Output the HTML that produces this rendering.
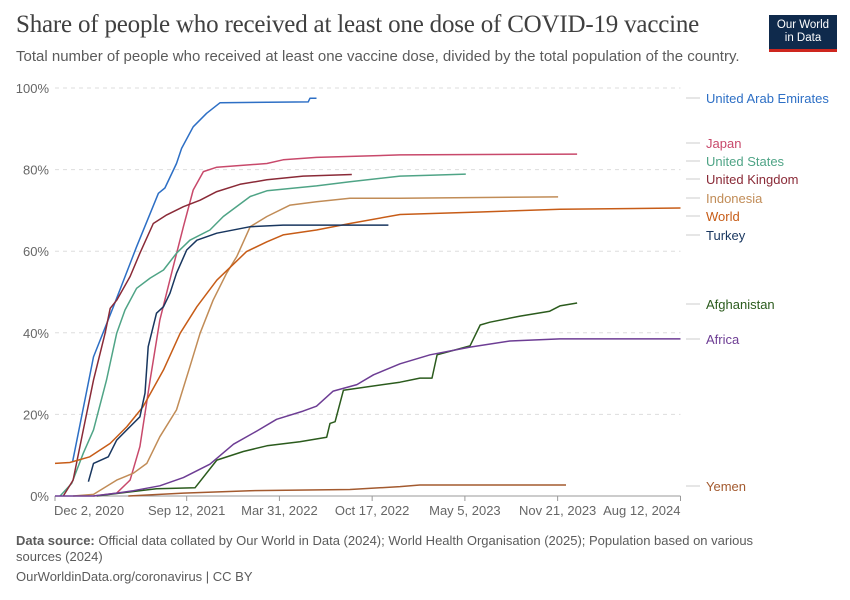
<!DOCTYPE html>
<html><head><meta charset="utf-8"><style>
body{margin:0;background:#fff;}
#wrap{position:relative;width:850px;height:600px;overflow:hidden;font-family:"Liberation Sans",sans-serif;}
.t{position:absolute;white-space:nowrap;}
</style></head><body>
<div id="wrap">
<div class="t" style="left:16px;top:11px;font-family:'Liberation Serif',serif;font-size:25px;color:#404040;letter-spacing:-0.2px;">Share of people who received at least one dose of COVID-19 vaccine</div>
<div class="t" style="left:16px;top:48px;font-size:15px;color:#5b5b5b;">Total number of people who received at least one vaccine dose, divided by the total population of the country.</div>
<div style="position:absolute;left:769px;top:15px;width:68px;height:37px;background:#0f2a4c;border-bottom:3px solid #ce261e;color:#fff;font-size:11.5px;line-height:13px;text-align:center;padding-top:4px;box-sizing:border-box;">Our World<br>in Data</div>
<svg id="svg" width="850" height="600" style="position:absolute;left:0;top:0"></svg>
<div class="t" style="left:16px;top:533px;font-size:13px;color:#5b5b5b;line-height:16px;white-space:normal;width:780px;"><b>Data source:</b> Official data collated by Our World in Data (2024); World Health Organisation (2025); Population based on various sources (2024)</div>
<div class="t" style="left:16px;top:569px;font-size:13px;color:#5b5b5b;">OurWorldinData.org/coronavirus | CC BY</div>
</div>
<script>
const tickLabels=["Dec 2, 2020","Sep 12, 2021","Mar 31, 2022","Oct 17, 2022","May 5, 2023","Nov 21, 2023","Aug 12, 2024"];
const tickDays=[0,284,484,684,884,1084,1349];
const yTicks=[0,20,40,60,80,100];
const seriesNames=["United Arab Emirates","Japan","United States","United Kingdom","Indonesia","World","Turkey","Afghanistan","Africa","Yemen"];
const seriesColors=["#2d6fc5","#c8496b","#4fa486","#8a2a37","#c18c57","#c75c17","#18365f","#2b5b1d","#6d3d94","#a35a2f"];
const labelY=[98,143,161,179,198,216,235,304,339,486];
const uaeDays=[38,83,126,176,223,237,262,273,298,327,356,546,550,564];
const uaeVals=[8.4,34.1,46.4,61.1,74.2,75.5,81.5,85.2,90.5,93.8,96.4,96.6,97.5,97.5];
const japanDays=[83,133,162,183,205,226,255,277,298,320,349,457,492,564,744,1126];
const japanVals=[0,0.7,3.9,12.1,28.4,43.1,56.2,66,75,79.5,80.6,81.5,82.4,83,83.6,83.8];
const usDays=[11,36,61,83,111,133,151,176,205,234,262,291,334,363,421,457,564,636,744,809,886];
const usVals=[0,3.1,10.5,16.2,28.4,39.9,45.6,50.9,53.4,55.4,59.5,62.7,65.2,68.5,73.4,74.8,76,77,78.4,78.6,78.9];
const ukDays=[18,39,61,83,108,119,133,162,183,212,241,277,313,349,399,457,535,640];
const ukVals=[0,3.9,16.2,28.4,39.9,46,48,53.8,59.5,66.8,68.9,70.9,72.5,74.6,76.4,77.5,78.4,78.8];
const indoDays=[39,83,133,169,198,226,262,291,313,341,370,392,421,457,507,564,636,744,1085];
const indoVals=[0,0.4,3.9,5.6,8,14.5,21.1,31.7,39.9,48,54.6,58.7,66,68.5,71.3,72.1,73,73,73.3];
const worldDays=[0,32,75,119,155,190,234,270,306,349,413,457,492,564,636,744,917,1089,1349];
const worldVals=[8,8.2,9.6,12.9,17,21.9,30.9,39.9,46.4,52.9,59.9,62.3,64,65.2,66.8,69,69.6,70.3,70.6];
const turkeyDays=[72,83,115,133,162,183,194,201,219,234,248,262,284,306,349,421,492,719];
const turkeyVals=[3.5,8,9.6,13.7,17,19.4,25.2,36.6,44.8,46.4,49.7,54.6,60.3,62.7,64.4,66,66.4,66.4];
const afgDays=[90,162,219,302,349,406,457,528,586,593,604,622,744,787,813,824,895,917,938,1003,1067,1089,1126];
const afgVals=[0,1,1.8,2,8.8,10.9,12.3,13.3,14.4,17.8,18.2,25.9,27.9,28.9,28.9,34.6,36.8,41.9,42.6,44.1,45.3,46.6,47.3];
const africaDays=[0,83,133,169,226,277,334,385,435,478,535,564,600,651,687,744,809,895,981,1089,1349];
const africaVals=[0,0,0.7,1.3,2.5,4.5,7.8,12.7,15.9,18.8,20.8,22,25.7,27.3,29.7,32.4,34.6,36.5,38,38.5,38.5];
const yemenDays=[158,277,421,636,744,787,1102];
const yemenVals=[0,0.7,1.3,1.6,2.3,2.7,2.7];
const allDays=[uaeDays,japanDays,usDays,ukDays,indoDays,worldDays,turkeyDays,afgDays,africaDays,yemenDays];
const allVals=[uaeVals,japanVals,usVals,ukVals,indoVals,worldVals,turkeyVals,afgVals,africaVals,yemenVals];

const X0=55,X1=680.5,D1=1349,Y0=496,Y1=88;
const xs=d=>X0+(X1-X0)*d/D1;
const ys=v=>Y0-(Y0-Y1)*v/100;
const svg=document.getElementById('svg');
const NS="http://www.w3.org/2000/svg";
function mk(tag,attrs){const e=document.createElementNS(NS,tag);for(const k in attrs)e.setAttribute(k,attrs[k]);svg.appendChild(e);return e;}
yTicks.forEach(v=>{
  if(v>0){const g=mk('line',{x1:X0,x2:X1,y1:ys(v),y2:ys(v),stroke:'#ddd','stroke-dasharray':'4 4'});
  
  }
  const t=mk('text',{x:49,y:ys(v)+5,'text-anchor':'end','font-size':13,fill:'#666','font-family':'Liberation Sans, sans-serif'});
  t.textContent=v+'%';
  
  
});
const ax=mk('line',{x1:X0,x2:X1,y1:Y0,y2:Y0,stroke:'#999'});


tickDays.forEach((d,i)=>{
  const tk=mk('line',{x1:xs(d),x2:xs(d),y1:Y0,y2:Y0+5,stroke:'#999'});
  
  
  const anchor=i===0?'start':(i===tickDays.length-1?'end':'middle');
  const tx=i===0?xs(d)-1:xs(d);
  const t=mk('text',{x:tx,y:515,'text-anchor':anchor,'font-size':13,fill:'#666','font-family':'Liberation Sans, sans-serif'});
  t.textContent=tickLabels[i];
  
  
});
seriesNames.forEach((n,i)=>{
  const ds=allDays[i],vs=allVals[i];
  const p=ds.map((d,j)=>(j?'L':'M')+xs(d).toFixed(1)+','+ys(vs[j]).toFixed(1)).join('');
  const path=mk('path',{d:p,fill:'none',stroke:seriesColors[i],'stroke-width':1.5,'stroke-linejoin':'round'});
  
  
  const ly=labelY[i];
  const c=mk('line',{x1:686,x2:700,y1:ly,y2:ly,stroke:'#ccc'});
  
  
  const t=mk('text',{x:706,y:ly+5,'font-size':13,fill:seriesColors[i],'font-family':'Liberation Sans, sans-serif'});
  t.textContent=n;
  
  
});
</script>
</body></html>
